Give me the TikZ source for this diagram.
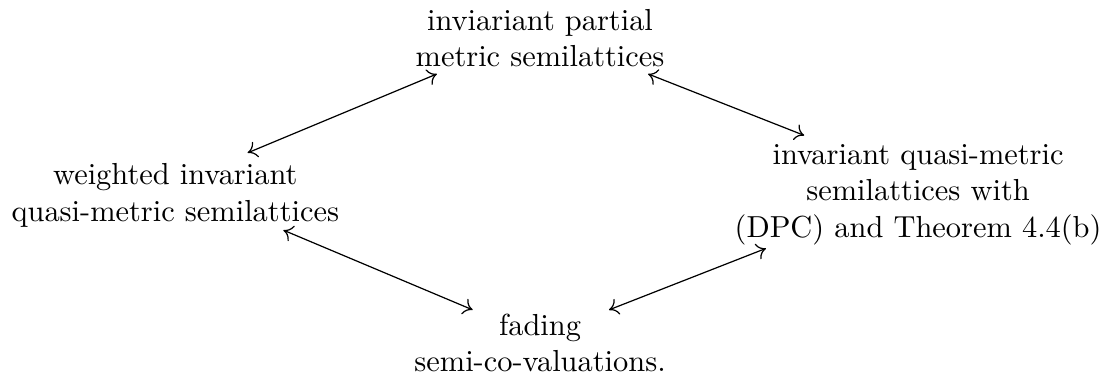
\documentclass[tikz,border=0pt]{standalone}
\usepackage{amsmath}
\usepackage{amssymb}
\usepackage{tikz}
\usetikzlibrary{arrows}
\usetikzlibrary{arrows.meta}

\begin{document}
\begin{tikzpicture}[scale=0.96,>={To[length=3pt,width=5.5pt]}]
\useasboundingbox (0,0) rectangle (13.36,-4.53);
\node[align=center] (ipm) at (6.50,-0.46) {inviariant partial\\metric semilattices};
\node[align=center] (wiq) at (2.11,-2.35) {weighted invariant\\quasi-metric semilattices};
\node[align=center] (iqm) at (11.05,-2.34) {invariant quasi-metric\\semilattices with\\(DPC) and Theorem 4.4(b)};
\node[align=center] (fsc) at (6.50,-4.13) {fading\\semi-co-valuations.};
\draw[<->] ([shift={(0.87,0.51)}]wiq.center) -- ([shift={(-1.24,-0.43)}]ipm.center);
\draw[<->] ([shift={(1.30,-0.43)}]ipm.center) -- ([shift={(-1.37,0.71)}]iqm.center);
\draw[<->] ([shift={(1.30,-0.42)}]wiq.center) -- ([shift={(-0.81,0.40)}]fsc.center);
\draw[<->] ([shift={(0.83,0.40)}]fsc.center) -- ([shift={(-1.83,-0.65)}]iqm.center);
\end{tikzpicture}
\end{document}
